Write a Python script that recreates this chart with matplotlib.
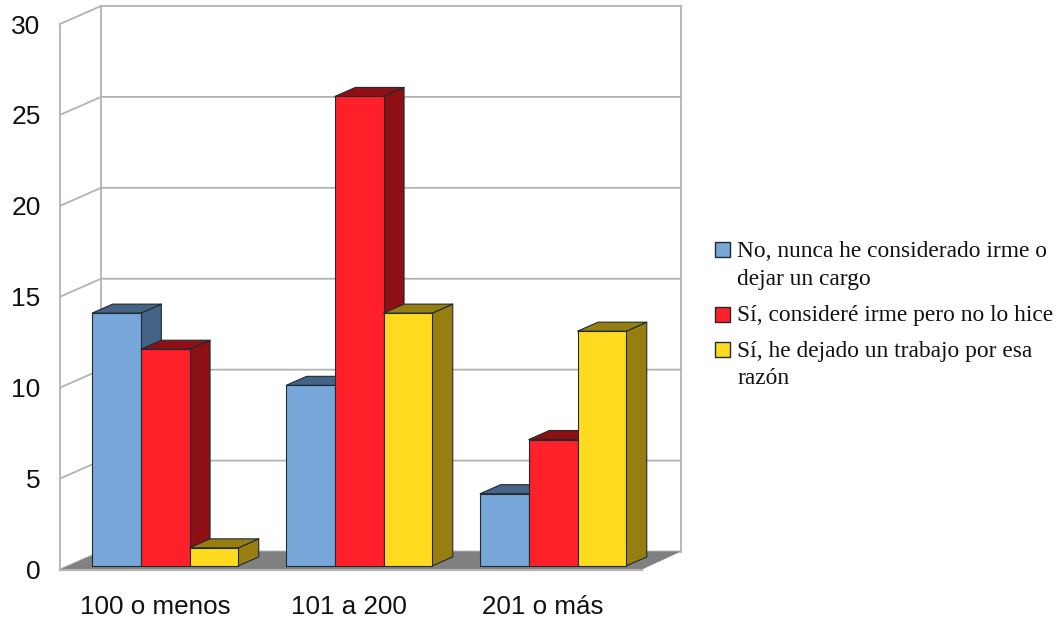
import matplotlib
matplotlib.use("Agg")
import matplotlib.pyplot as plt
from matplotlib.patches import Polygon, Rectangle
from matplotlib.transforms import ScaledTranslation

categories = ["100 o menos", "101 a 200", "201 o más"]
nunca = [14, 10, 4]
considere = [12, 26, 7]
dejado = [1, 14, 13]
series_labels = [
    ["No, nunca he considerado irme o", "dejar un cargo"],
    ["Sí, consideré irme pero no lo hice"],
    ["Sí, he dejado un trabajo por esa", "razón"],
]
yticks = [0, 5, 10, 15, 20, 25, 30]

W, H = 1058, 619
front_colors = ["#77a6d9", "#ff2029", "#ffdb1f"]
dark_colors = ["#456485", "#8e0f14", "#977e11"]
edge_col = "#1f2a33"
grid_col = "#b3b3b3"

fig = plt.figure(figsize=(W / 100, H / 100), dpi=100)
# axes box is the front plane of the 3d chart
left, right, top, bottom = 60, 642, 24, 569.5
ax = fig.add_axes([left / W, 1 - bottom / H, (right - left) / W, (bottom - top) / H])
ax.set_xlim(-0.5, 2.5)
ax.set_ylim(0, 30)

px_x = (right - left) / 3
px_y = (bottom - top) / 30
depth_x = 41 / px_x
depth_y = 18 / px_y
back_right = 2.5 - 2 / px_x  # slight perspective on the far edge
bar_scale = 0.993


def pt(x, y, d=0.0):
    return (x + depth_x * d, y + depth_y * d)


def poly(points, **kw):
    ax.add_patch(Polygon(points, closed=True, clip_on=False, **kw))


# floor
poly([pt(-0.5, 0), pt(-0.5, 0, 1), pt(back_right, 0, 1), pt(2.5, 0)],
     facecolor="#808080", edgecolor="none", zorder=1)
ax.plot([-0.5, 2.5], [0, 0], color=grid_col, lw=1.6, zorder=1.5, clip_on=False)

# walls and grid
for v in yticks:
    a, b, c = pt(-0.5, v), pt(-0.5, v, 1), pt(back_right, v, 1)
    ax.plot([a[0], b[0], c[0]], [a[1], b[1], c[1]], color=grid_col, lw=1.3,
            zorder=0.5, clip_on=False)
for x0, d in [(-0.5, 0), (-0.5, 1), (back_right, 1)]:
    a, b = pt(x0, 0, d), pt(x0, 30, d)
    ax.plot([a[0], b[0]], [a[1], b[1]], color=grid_col, lw=1.3, zorder=0.5, clip_on=False)

# bars, left to right so each one covers the side of the previous
bar_w = 48.7 / px_x
d0, d1 = 0.2, 0.7
z = 2.0
for i in range(len(categories)):
    for j, vals in enumerate([nunca, considere, dejado]):
        v = vals[i] * bar_scale
        x0 = i - 1.5 * bar_w + j * bar_w
        x1 = x0 + bar_w
        kw = dict(edgecolor=edge_col, linewidth=0.8, joinstyle="round")
        poly([pt(x1, 0, d0), pt(x1, 0, d1), pt(x1, v, d1), pt(x1, v, d0)],
             facecolor=dark_colors[j], zorder=z, **kw)
        poly([pt(x0, v, d0), pt(x0, v, d1), pt(x1, v, d1), pt(x1, v, d0)],
             facecolor=dark_colors[j], zorder=z, **kw)
        poly([pt(x0, 0, d0), pt(x1, 0, d0), pt(x1, v, d0), pt(x0, v, d0)],
             facecolor=front_colors[j], zorder=z + 0.1, **kw)
        z += 0.2

ax.set_xticks(range(len(categories)))
ax.set_xticklabels(categories)
ax.set_yticks(yticks)
ax.tick_params(length=0, labelcolor="#111111")
ax.tick_params(axis="y", pad=14, labelsize=19)
ax.tick_params(axis="x", pad=18, labelsize=18.7)
shift = ScaledTranslation(-2 / 100, 0, fig.dpi_scale_trans)
for lab in ax.get_xticklabels():
    lab.set_fontfamily("Liberation Sans")
    lab.set_transform(lab.get_transform() + shift)
for lab in ax.get_yticklabels():
    lab.set_fontfamily("Liberation Sans")
for s in ax.spines.values():
    s.set_visible(False)
ax.patch.set_alpha(0)

# legend
swatch_top = [242, 307, 342]
baselines = [257, 321, 357]
line_gap = 27.5
for j, lines in enumerate(series_labels):
    fig.patches.append(Rectangle((715 / W, 1 - (swatch_top[j] + 15) / H), 15 / W, 15 / H,
                                 transform=fig.transFigure, facecolor=front_colors[j],
                                 edgecolor=edge_col, linewidth=1.0))
    for k, line in enumerate(lines):
        fig.text(737 / W, 1 - (baselines[j] + k * line_gap) / H, line, va="baseline",
                 ha="left", fontsize=16.8, family="Liberation Serif", color="#111111")

fig.savefig("out.png", dpi=100)
